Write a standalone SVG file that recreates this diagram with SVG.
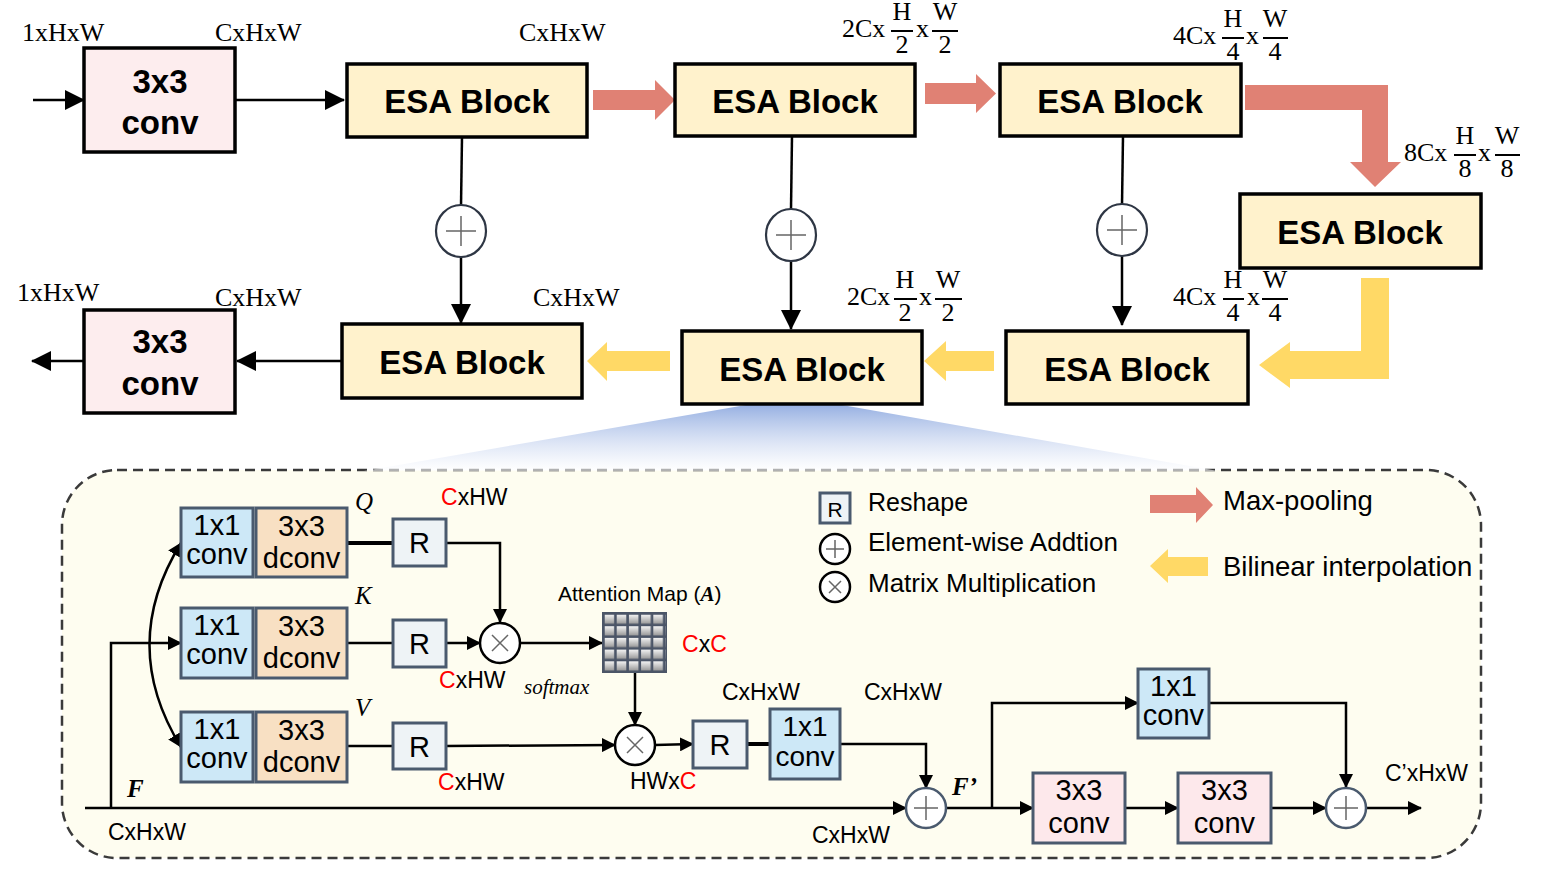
<svg xmlns="http://www.w3.org/2000/svg" width="1560" height="872" viewBox="0 0 1560 872">
<defs>
<style>
.lbl{font-family:"Liberation Serif","Times New Roman",serif;font-size:26px;fill:#000}
.sans{font-family:"Liberation Sans",Arial,sans-serif;fill:#000}
.bold{font-family:"Liberation Sans",Arial,sans-serif;font-weight:bold;font-size:33px;fill:#000}
.esa{fill:#FFF2CC;stroke:#000;stroke-width:3.5}
.conv{fill:#FDEDEE;stroke:#000;stroke-width:3.5}
.ln{fill:none;stroke:#000;stroke-width:2.5}
.lnt{fill:none;stroke:#000;stroke-width:4}
.frac{stroke:#000;stroke-width:2}
.add{fill:#fff;stroke:#2E3644;stroke-width:2.2}
.sym{stroke:#666;stroke-width:1.5;fill:none}
.b1{fill:#CDE8F7;stroke:#4A5A6E;stroke-width:3}
.b3{fill:#F8E0C3;stroke:#4A5A6E;stroke-width:3}
.bp{fill:#FDE8EB;stroke:#4A5A6E;stroke-width:3}
.br{fill:#EEF3F6;stroke:#4A5A6E;stroke-width:3}
.t29{font-size:29px}
.t23{font-size:23px}
.red{fill:#FF0000}
.it{font-family:"Liberation Serif","Times New Roman",serif;font-style:italic;fill:#000}
.bi{font-family:"Liberation Serif","Times New Roman",serif;font-style:italic;font-weight:bold;fill:#000}
.pool{fill:#E08174}
.bil{fill:#FFD966}
</style>
<marker id="aL" markerUnits="userSpaceOnUse" markerWidth="20" markerHeight="20" refX="19" refY="10" orient="auto"><path d="M0,0 L20,10 L0,20 z" fill="#000"/></marker>
<marker id="aS" markerUnits="userSpaceOnUse" markerWidth="14" markerHeight="14" refX="13" refY="7" orient="auto-start-reverse"><path d="M0,0 L14,7 L0,14 z" fill="#000"/></marker>
<linearGradient id="fun" x1="0" y1="0" x2="0" y2="1">
<stop offset="0" stop-color="#97B0E2"/>
<stop offset="1" stop-color="#FFFFFF" stop-opacity="0.6"/>
</linearGradient>
<linearGradient id="cell" x1="0" y1="0" x2="0" y2="1">
<stop offset="0" stop-color="#F2F2F2"/>
<stop offset="1" stop-color="#9A9A9A"/>
</linearGradient>
<pattern id="grid" patternUnits="userSpaceOnUse" x="604.5" y="614.5" width="12.2" height="11.7">
<rect x="0" y="0" width="12.2" height="11.7" fill="#4B5567"/>
<rect x="0" y="0" width="9.6" height="9.2" fill="url(#cell)"/>
</pattern>
</defs>
<rect x="0" y="0" width="1560" height="872" fill="#fff"/>

<!-- detail panel background -->
<g id="panel">
<rect x="62" y="470" width="1419" height="388" rx="55" ry="55" fill="#FEFDF0" stroke="#3A3A3A" stroke-width="2.5" stroke-dasharray="10 6"/>
<polygon points="746,405 842,405 1218,471 364,471" fill="url(#fun)"/>
</g>

<!-- top labels -->
<g id="labels">
<text class="lbl" x="22" y="41">1xHxW</text>
<text class="lbl" x="215" y="41">CxHxW</text>
<text class="lbl" x="519" y="41">CxHxW</text>
<text class="lbl" x="17" y="301">1xHxW</text>
<text class="lbl" x="215" y="306">CxHxW</text>
<text class="lbl" x="533" y="306">CxHxW</text>
<g id="lbl2c_top">
<text class="lbl" x="842" y="37">2Cx</text>
<text class="lbl" x="902" y="20" text-anchor="middle">H</text>
<line class="frac" x1="891" y1="31" x2="913" y2="31"/>
<text class="lbl" x="902" y="53" text-anchor="middle">2</text>
<text class="lbl" x="916" y="37">x</text>
<text class="lbl" x="945" y="20" text-anchor="middle">W</text>
<line class="frac" x1="932" y1="31" x2="958" y2="31"/>
<text class="lbl" x="945" y="53" text-anchor="middle">2</text>
</g>
<g id="lbl4c_top">
<text class="lbl" x="1173" y="44">4Cx</text>
<text class="lbl" x="1233" y="27" text-anchor="middle">H</text>
<line class="frac" x1="1222" y1="38" x2="1244" y2="38"/>
<text class="lbl" x="1233" y="60" text-anchor="middle">4</text>
<text class="lbl" x="1246" y="44">x</text>
<text class="lbl" x="1275" y="27" text-anchor="middle">W</text>
<line class="frac" x1="1263" y1="38" x2="1288" y2="38"/>
<text class="lbl" x="1275" y="60" text-anchor="middle">4</text>
</g>
<g id="lbl8c">
<text class="lbl" x="1404" y="161">8Cx</text>
<text class="lbl" x="1465" y="144" text-anchor="middle">H</text>
<line class="frac" x1="1454" y1="155" x2="1476" y2="155"/>
<text class="lbl" x="1465" y="177" text-anchor="middle">8</text>
<text class="lbl" x="1478" y="161">x</text>
<text class="lbl" x="1507" y="144" text-anchor="middle">W</text>
<line class="frac" x1="1495" y1="155" x2="1520" y2="155"/>
<text class="lbl" x="1507" y="177" text-anchor="middle">8</text>
</g>
<g id="lbl2c_bot">
<text class="lbl" x="847" y="305">2Cx</text>
<text class="lbl" x="905" y="288" text-anchor="middle">H</text>
<line class="frac" x1="894" y1="299" x2="917" y2="299"/>
<text class="lbl" x="905" y="321" text-anchor="middle">2</text>
<text class="lbl" x="919" y="305">x</text>
<text class="lbl" x="948" y="288" text-anchor="middle">W</text>
<line class="frac" x1="935" y1="299" x2="962" y2="299"/>
<text class="lbl" x="948" y="321" text-anchor="middle">2</text>
</g>
<g id="lbl4c_bot">
<text class="lbl" x="1173" y="305">4Cx</text>
<text class="lbl" x="1233" y="288" text-anchor="middle">H</text>
<line class="frac" x1="1223" y1="299" x2="1244" y2="299"/>
<text class="lbl" x="1233" y="321" text-anchor="middle">4</text>
<text class="lbl" x="1247" y="305">x</text>
<text class="lbl" x="1275" y="288" text-anchor="middle">W</text>
<line class="frac" x1="1262" y1="299" x2="1288" y2="299"/>
<text class="lbl" x="1275" y="321" text-anchor="middle">4</text>
</g>
</g>

<!-- connectors -->
<g id="connectors">
<path class="ln" d="M33,100 L84,100" marker-end="url(#aL)"/>
<path class="ln" d="M235,100 L344,100" marker-end="url(#aL)"/>
<path class="ln" d="M462,137 L461,206"/>
<path class="ln" d="M461,256 L461,323" marker-end="url(#aL)"/>
<path class="ln" d="M792,136 L791,209"/>
<path class="ln" d="M791,261 L791,329" marker-end="url(#aL)"/>
<path class="ln" d="M1123,136 L1122,205"/>
<path class="ln" d="M1122,255 L1122,325" marker-end="url(#aL)"/>
<path class="ln" d="M341,361 L237,361" marker-end="url(#aL)"/>
<path class="ln" d="M83,361 L32,361" marker-end="url(#aL)"/>
<!-- sampling arrows -->
<path class="pool" d="M593,90 L655,90 L655,80 L675,100 L655,120 L655,110 L593,110 Z"/>
<path class="pool" d="M925,83 L976,83 L976,74 L996,93.5 L976,113 L976,104 L925,104 Z"/>
<path class="pool" d="M1245,85 L1388,85 L1388,162 L1401,162 L1375,187 L1350,162 L1362,162 L1362,110 L1245,110 Z"/>
<path class="bil" d="M1361,278 L1389,278 L1389,379 L1290,379 L1290,388 L1259,365 L1290,342 L1290,351 L1361,351 Z"/>
<path class="bil" d="M994,351 L946,351 L946,341 L924,361 L946,381 L946,371 L994,371 Z"/>
<path class="bil" d="M670,351 L607,351 L607,342 L587,361 L607,381 L607,371 L670,371 Z"/>
<!-- detail connectors -->
<path class="lnt" d="M347,543 L393,543"/>
<path class="ln" d="M446,543 L500,543 L500,622" marker-end="url(#aS)"/>
<path class="ln" d="M347,643 L393,643"/>
<path class="ln" d="M446,643 L480,643" marker-end="url(#aS)"/>
<path class="ln" d="M520,643 L602,643" marker-end="url(#aS)"/>
<path class="ln" d="M635,673 L635,725" marker-end="url(#aS)"/>
<path class="ln" d="M347,746 L393,746"/>
<path class="ln" d="M446,746 L615,745" marker-end="url(#aS)"/>
<path class="ln" d="M655,745 L693,744" marker-end="url(#aS)"/>
<path class="lnt" d="M747,744 L770,744"/>
<path class="ln" d="M840,744 L926,744 L926,788" marker-end="url(#aS)"/>
<path class="ln" d="M85,808 L906,808" marker-end="url(#aS)"/>
<path class="ln" d="M111,808 L111,643 L181,643" marker-end="url(#aS)"/>
<path class="ln" d="M181,543 Q118,645 181,747" marker-start="url(#aS)" marker-end="url(#aS)"/>
<path class="ln" d="M946,808 L1033,808" marker-end="url(#aS)"/>
<path class="ln" d="M992,808 L992,703 L1138,703" marker-end="url(#aS)"/>
<path class="ln" d="M1209,703 L1346,703 L1346,787" marker-end="url(#aS)"/>
<path class="ln" d="M1125,808 L1178,808" marker-end="url(#aS)"/>
<path class="ln" d="M1271,808 L1326,808" marker-end="url(#aS)"/>
<path class="ln" d="M1366,808 L1421,808" marker-end="url(#aS)"/>
</g>

<!-- top nodes -->
<g id="conv_in"><rect class="conv" x="84" y="48" width="151" height="104"/><text class="bold" x="160" y="93" text-anchor="middle">3x3</text><text class="bold" x="160" y="134" text-anchor="middle">conv</text></g>
<g id="esa1"><rect class="esa" x="347" y="64" width="240" height="73"/><text class="bold" x="467" y="113" text-anchor="middle">ESA Block</text></g>
<g id="esa2"><rect class="esa" x="675" y="64" width="240" height="72"/><text class="bold" x="795" y="113" text-anchor="middle">ESA Block</text></g>
<g id="esa3"><rect class="esa" x="1000" y="64" width="241" height="72"/><text class="bold" x="1120" y="113" text-anchor="middle">ESA Block</text></g>
<g id="esa4"><rect class="esa" x="1240" y="194" width="241" height="74"/><text class="bold" x="1360" y="244" text-anchor="middle">ESA Block</text></g>
<g id="esa5"><rect class="esa" x="1006" y="331" width="242" height="73"/><text class="bold" x="1127" y="381" text-anchor="middle">ESA Block</text></g>
<g id="esa6"><rect class="esa" x="682" y="331" width="240" height="73"/><text class="bold" x="802" y="381" text-anchor="middle">ESA Block</text></g>
<g id="esa7"><rect class="esa" x="342" y="324" width="240" height="74"/><text class="bold" x="462" y="374" text-anchor="middle">ESA Block</text></g>
<g id="conv_out"><rect class="conv" x="84" y="310" width="151" height="103"/><text class="bold" x="160" y="353" text-anchor="middle">3x3</text><text class="bold" x="160" y="395" text-anchor="middle">conv</text></g>
<g id="add1"><ellipse class="add" cx="461" cy="231" rx="25" ry="26"/><path class="sym" d="M446,231 H476 M461,216 V246"/></g>
<g id="add2"><ellipse class="add" cx="791" cy="235" rx="25" ry="26"/><path class="sym" d="M776,235 H806 M791,220 V250"/></g>
<g id="add3"><ellipse class="add" cx="1122" cy="230" rx="25" ry="26"/><path class="sym" d="M1107,230 H1137 M1122,215 V245"/></g>

<!-- detail nodes -->
<g id="q_conv"><rect class="b1" x="181" y="508" width="72" height="69"/><text class="sans t29" x="217" y="535" text-anchor="middle">1x1</text><text class="sans t29" x="217" y="564" text-anchor="middle">conv</text></g>
<g id="q_dconv"><rect class="b3" x="256" y="508" width="91" height="69"/><text class="sans t29" x="301.5" y="536" text-anchor="middle">3x3</text><text class="sans t29" x="301.5" y="568" text-anchor="middle">dconv</text></g>
<g id="k_conv"><rect class="b1" x="181" y="608" width="72" height="70"/><text class="sans t29" x="217" y="635" text-anchor="middle">1x1</text><text class="sans t29" x="217" y="664" text-anchor="middle">conv</text></g>
<g id="k_dconv"><rect class="b3" x="256" y="608" width="91" height="70"/><text class="sans t29" x="301.5" y="636" text-anchor="middle">3x3</text><text class="sans t29" x="301.5" y="668" text-anchor="middle">dconv</text></g>
<g id="v_conv"><rect class="b1" x="181" y="712" width="72" height="70"/><text class="sans t29" x="217" y="739" text-anchor="middle">1x1</text><text class="sans t29" x="217" y="768" text-anchor="middle">conv</text></g>
<g id="v_dconv"><rect class="b3" x="256" y="712" width="91" height="70"/><text class="sans t29" x="301.5" y="740" text-anchor="middle">3x3</text><text class="sans t29" x="301.5" y="772" text-anchor="middle">dconv</text></g>
<g id="q_r"><rect class="br" x="393" y="519" width="53" height="47"/><text class="sans t29" x="419.5" y="553" text-anchor="middle">R</text></g>
<g id="k_r"><rect class="br" x="393" y="620" width="53" height="47"/><text class="sans t29" x="419.5" y="654" text-anchor="middle">R</text></g>
<g id="v_r"><rect class="br" x="393" y="723" width="53" height="46"/><text class="sans t29" x="419.5" y="757" text-anchor="middle">R</text></g>
<g id="mul1"><circle cx="500" cy="643" r="20" fill="#fff" stroke="#000" stroke-width="2.5"/><path class="sym" d="M492,635 L508,651 M508,635 L492,651"/></g>
<g id="attn"><rect x="602" y="612" width="65" height="61" fill="#4B5567"/><rect x="604.5" y="614.5" width="61" height="57" fill="url(#grid)"/></g>
<g id="mul2"><circle cx="635" cy="745" r="20" fill="#fff" stroke="#000" stroke-width="2.5"/><path class="sym" d="M627,737 L643,753 M643,737 L627,753"/></g>
<g id="r_out"><rect class="br" x="693" y="721" width="54" height="47"/><text class="sans t29" x="720" y="755" text-anchor="middle">R</text></g>
<g id="conv_a"><rect class="b1" x="770" y="709" width="70" height="70"/><text class="sans" font-size="28" x="805" y="736" text-anchor="middle">1x1</text><text class="sans" font-size="28" x="805" y="766" text-anchor="middle">conv</text></g>
<g id="add_f"><circle cx="926" cy="808" r="20" fill="#fff" stroke="#4A5A6E" stroke-width="2.5"/><path class="sym" d="M914,808 H938 M926,796 V820"/></g>
<g id="conv_b"><rect class="b1" x="1138" y="669" width="71" height="69"/><text class="sans t29" x="1173.5" y="696" text-anchor="middle">1x1</text><text class="sans t29" x="1173.5" y="725" text-anchor="middle">conv</text></g>
<g id="conv3a"><rect class="bp" x="1033" y="773" width="92" height="70"/><text class="sans t29" x="1079" y="800" text-anchor="middle">3x3</text><text class="sans t29" x="1079" y="833" text-anchor="middle">conv</text></g>
<g id="conv3b"><rect class="bp" x="1178" y="773" width="93" height="70"/><text class="sans t29" x="1224.5" y="800" text-anchor="middle">3x3</text><text class="sans t29" x="1224.5" y="833" text-anchor="middle">conv</text></g>
<g id="add_out"><circle cx="1346" cy="808" r="20" fill="#fff" stroke="#4A5A6E" stroke-width="2.5"/><path class="sym" d="M1334,808 H1358 M1346,796 V820"/></g>

<!-- detail labels -->
<g id="detail_labels">
<text class="it" x="355" y="510" font-size="25">Q</text>
<text class="it" x="355" y="604" font-size="25">K</text>
<text class="it" x="355" y="716" font-size="25">V</text>
<text class="sans t23" x="441" y="505"><tspan class="red">C</tspan>xHW</text>
<text class="sans t23" x="439" y="688"><tspan class="red">C</tspan>xHW</text>
<text class="sans t23" x="438" y="790"><tspan class="red">C</tspan>xHW</text>
<text class="sans" x="558" y="601" font-size="21">Attention Map (<tspan class="bi">A</tspan>)</text>
<text class="sans t23" x="682" y="652"><tspan class="red">C</tspan>x<tspan class="red">C</tspan></text>
<text class="it" x="524" y="694" font-size="21">softmax</text>
<text class="sans t23" x="630" y="789">HWx<tspan class="red">C</tspan></text>
<text class="sans t23" x="722" y="700">CxHxW</text>
<text class="sans t23" x="864" y="700">CxHxW</text>
<text class="bi" x="127" y="797" font-size="25">F</text>
<text class="sans t23" x="108" y="840">CxHxW</text>
<text class="bi" x="952" y="795" font-size="25">F’</text>
<text class="sans t23" x="812" y="843">CxHxW</text>
<text class="sans t23" x="1385" y="781">C’xHxW</text>
</g>

<!-- legend -->
<g id="legend">
<rect class="br" x="820" y="493" width="30" height="30" stroke-width="2.5"/>
<text class="sans" x="835" y="517" font-size="21" text-anchor="middle">R</text>
<text class="sans" x="868" y="511" font-size="25">Reshape</text>
<circle cx="835" cy="549" r="15" fill="#fff" stroke="#000" stroke-width="2.5"/>
<path class="sym" d="M826,549 H844 M835,540 V558"/>
<text class="sans" x="868" y="551" font-size="26">Element-wise Addtion</text>
<circle cx="835" cy="587" r="15" fill="#fff" stroke="#000" stroke-width="2.5"/>
<path class="sym" d="M829,581 L841,593 M841,581 L829,593"/>
<text class="sans" x="868" y="592" font-size="26">Matrix Multiplication</text>
<path class="pool" d="M1150,495 L1196,495 L1196,487 L1213,505 L1196,523 L1196,513 L1150,513 Z"/>
<text class="sans" x="1223" y="510" font-size="27.5">Max-pooling</text>
<path class="bil" d="M1208,557 L1168,557 L1168,549 L1150,566 L1168,583 L1168,576 L1208,576 Z"/>
<text class="sans" x="1223" y="576" font-size="27.5">Bilinear interpolation</text>
</g>
</svg>
